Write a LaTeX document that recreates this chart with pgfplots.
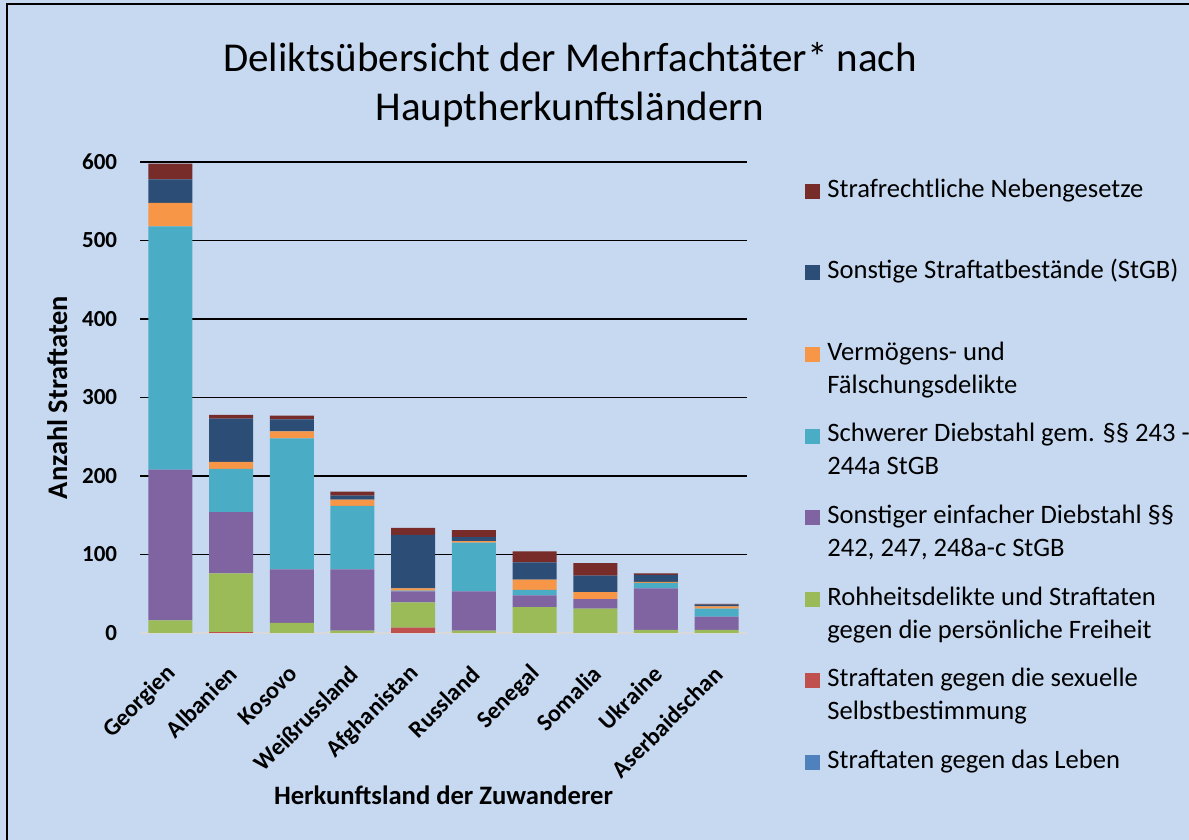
\documentclass[border=0pt]{standalone}
\usepackage{pgfplots}
\pgfplotsset{compat=1.18}
\usepackage{pgfplotstable}
\usepackage{fontspec}
\setmainfont{Carlito}

\definecolor{bg}{HTML}{C6D9F1}
\definecolor{cLeben}{HTML}{4F81BD}
\definecolor{cSex}{HTML}{C0504D}
\definecolor{cRoh}{HTML}{9BBB59}
\definecolor{cEinf}{HTML}{8064A2}
\definecolor{cSchw}{HTML}{4BACC6}
\definecolor{cVerm}{HTML}{F79646}
\definecolor{cSonst}{HTML}{2C4D75}
\definecolor{cNeben}{HTML}{772C2A}

% Mehrfachtäter-Delikte je Herkunftsland
\pgfplotstableread{
idx land          leben sexual roh einfach schwer verm sonst neben
0   Georgien      0     0      16  192     310    30   30    20
1   Albanien      0     1      75  78      55     9    55    5
2   Kosovo        0     0      13  68      167    9    15    5
3   Weißrussland  0     0      3   78      81     8    5     5
4   Afghanistan   0     7      32  14      1      3    68    9
5   Russland      0     0      3   50      62     2    5     9
6   Senegal       0     0      33  15      7      13   22    14
7   Somalia       0     0      31  12      0      9    21    16
8   Ukraine       0     0      4   53      7      1    9     2
9   Aserbaidschan 0     0      4   17      10     3    2     1
}\data

\newcommand\LE[1]{\parbox[t]{200pt}{#1}}
% square legend key; the invisible path fixes each row's height
\pgfplotsset{sq/.style={draw=none, fill=#1,
  legend image code/.code={\fill[#1] (0pt,-0.8pt) rectangle (7.5pt,6.7pt);
    \path[fill=none, draw=none] (0pt,-30pt) rectangle (11pt,10.8pt);}}}

\begin{document}
\begin{tikzpicture}
\useasboundingbox (0,0) rectangle (594.5pt,420pt);
\fill[bg] (0,0) rectangle (594.5pt,420pt);
\draw[line width=1pt] (3.5pt,0) -- (3.5pt,418pt) -- (594.5pt,418pt);

\node[anchor=base, font=\fontsize{20.5}{24}\selectfont] at (285pt,384pt) {Deliktsübersicht der Mehrfachtäter* nach};
\node[anchor=base, font=\fontsize{20.5}{24}\selectfont] at (285pt,359.5pt) {Hauptherkunftsländern};

\begin{axis}[
  at={(70pt,103.5pt)}, anchor=south west,
  width=303.5pt, height=235.5pt, scale only axis,
  ybar stacked, bar width=22pt,
  xmin=-0.5, xmax=9.5, ymin=0, ymax=600,
  xtick={0,...,9}, xticklabels from table={\data}{land},
  ytick={100,200,...,600}, extra y ticks={0},
  extra y tick style={major grid style={color=black!15, line width=1.4pt}},
  ymajorgrids, major grid style={black, line width=0.75pt},
  axis line style={draw=none}, major tick length=0pt,
  /pgf/number format/assume math mode=true,
  yticklabel style={font=\bfseries\fontsize{11.5}{12}\selectfont, inner sep=0pt, xshift=-11.25pt},
  xticklabel style={font=\bfseries\fontsize{12}{12}\selectfont,
    xshift=1pt, yshift=-18.5pt, rotate=45, anchor=east, inner sep=0pt},
  xlabel={Herkunftsland der Zuwanderer},
  ylabel={Anzahl Straftaten},
  xlabel style={font=\bfseries\fontsize{13.3}{14}\selectfont,
    at={(axis description cs:0.5,-0.365)}, anchor=base},
  ylabel style={font=\bfseries\fontsize{14.2}{15}\selectfont,
    at={(axis description cs:-0.12,0.5)}, anchor=base},
  legend style={at={(1.0956,0.9722)}, anchor=north west, draw=none, fill=none,
    row sep=0pt, inner sep=0pt, font=\fontsize{13.3}{16.5}\selectfont,
    nodes={inner sep=0pt}, cells={anchor=base west}},
  reverse legend,
]
\addplot[sq=cLeben]  table[x=idx,y=leben]{\data};   \addlegendentry{\LE{Straftaten gegen das Leben}}
\addplot[sq=cSex]    table[x=idx,y=sexual]{\data};  \addlegendentry{\LE{Straftaten gegen die sexuelle\\Selbstbestimmung}}
\addplot[sq=cRoh]    table[x=idx,y=roh]{\data};     \addlegendentry{\LE{Rohheitsdelikte und Straftaten\\gegen die persönliche Freiheit}}
\addplot[sq=cEinf]   table[x=idx,y=einfach]{\data}; \addlegendentry{\LE{Sonstiger einfacher Diebstahl §§\\242, 247, 248a-c StGB}}
\addplot[sq=cSchw]   table[x=idx,y=schwer]{\data};  \addlegendentry{\LE{Schwerer Diebstahl gem. §§ 243 -\\244a StGB}}
\addplot[sq=cVerm]   table[x=idx,y=verm]{\data};    \addlegendentry{\LE{Vermögens- und\\Fälschungsdelikte}}
\addplot[sq=cSonst]  table[x=idx,y=sonst]{\data};   \addlegendentry{\LE{Sonstige Straftatbestände (StGB)}}
\addplot[sq=cNeben]  table[x=idx,y=neben]{\data};   \addlegendentry{\LE{Strafrechtliche Nebengesetze}}
\end{axis}
\end{tikzpicture}
\end{document}
